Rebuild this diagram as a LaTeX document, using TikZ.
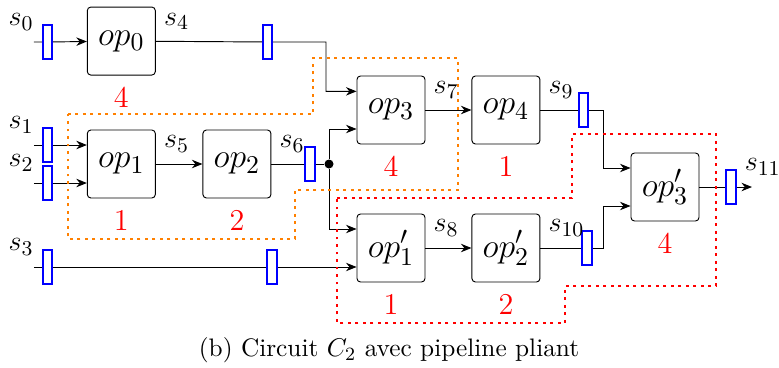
\documentclass[tikz,border=0pt]{standalone}
\usetikzlibrary{arrows.meta, positioning, calc}

\begin{document}
\begin{tikzpicture}[
    x=1cm,
    y=1cm,
    >={Stealth[length=4.5pt, width=3.6pt]},
    opbox/.style={draw, rounded corners=1.5pt, minimum width=1.02cm, minimum height=1.02cm, inner sep=0pt, font=\fontsize{15.5}{18}\selectfont},
    regbox/.style={draw=blue, thick, fill=white, minimum width=0.14cm, minimum height=0.5cm, inner sep=0pt},
    stage/.style={text=red, font=\fontsize{12.9}{15}\selectfont},
    sig/.style={font=\fontsize{12.9}{15}\selectfont},
    forkdot/.style={circle, fill, inner sep=0pt, minimum size=0.135cm},
    region/.style={dotted, very thick}
]

\useasboundingbox (0,0) rectangle (11.685,5.505);

\node[opbox] (op1) at (1.82,3.045) {$op_1$};
\node[opbox, right=0.70cm of op1] (op2) {$op_2$};
\node[opbox, above=0.81cm of op1] (op0) {$op_0$};
\node[opbox] (op3) at (5.865,3.855) {$op_3$};
\node[opbox, right=0.69cm of op3] (op4) {$op_4$};
\node[opbox] (op1p) at (5.865,1.785) {$op'_1$};
\node[opbox, right=0.69cm of op1p] (op2p) {$op'_2$};
\node[opbox] (op3p) at (9.975,2.70) {$op'_3$};

\node[stage, below=1.5pt of op0] (n0) {4};
\node[stage, below=1.5pt of op1] (n1) {1};
\node[stage, below=1.5pt of op2] (n2) {2};
\node[stage, below=1.5pt of op3] (n3) {4};
\node[stage, below=1.5pt of op4] (n4) {1};
\node[stage, below=1.5pt of op1p] (n1p) {1};
\node[stage, below=1.5pt of op2p] (n2p) {2};
\node[stage, below=1.5pt of op3p] (n3p) {4};

\node[regbox] (reg0) at (0.7125,4.875) {};
\node[regbox] (reg1) at (0.7125,3.33) {};
\node[regbox] (reg2) at (0.7125,2.76) {};
\node[regbox] (reg3a) at (0.7125,1.5) {};
\node[regbox] (reg3b) at (4.08,1.5) {};
\node[regbox] (reg4) at (4.0125,4.875) {};
\node[regbox] (reg6) at (4.65,3.045) {};
\node[regbox] (reg9) at (8.7525,3.855) {};
\node[regbox] (reg10) at (8.805,1.785) {};
\node[regbox] (reg11) at (10.965,2.70) {};

\coordinate (in0) at (0.51,4.875);
\coordinate (in1) at (0.51,3.33);
\coordinate (in2) at (0.51,2.76);
\coordinate (in3) at (0.51,1.5);
\coordinate (sout) at (11.28,2.70);
\coordinate (bend4) at (4.89,4.875);
\coordinate (bend9) at (9.045,3.855);
\coordinate (bend10) at (9.045,1.785);
\node[forkdot] (fork) at (4.935,3.045) {};

\draw[->] (in0) -- (reg0) -- (op0);
\draw[->] (in1) -- (reg1) -- (reg1 -| op1.west);
\draw[->] (in2) -- (reg2) -- (reg2 -| op1.west);
\draw[->] (in3) -- (reg3a) -- (reg3b) -- (reg3b -| op1p.west);
\draw[->] (op1) -- (op2);
\draw (op2) -- (reg6) -- (fork);
\draw[->] (op0) -- (reg4) -- (bend4) |- ([yshift=0.28cm]op3.west);
\draw[->] (fork) |- ([yshift=-0.285cm]op3.west);
\draw[->] (fork) |- ([yshift=0.285cm]op1p.west);
\draw[->] (op3) -- (op4);
\draw[->] (op1p) -- (op2p);
\draw[->] (op4) -- (reg9) -- (bend9) |- ([yshift=0.285cm]op3p.west);
\draw[->] (op2p) -- (reg10) -- (bend10) |- ([yshift=-0.285cm]op3p.west);
\draw[->] (op3p) -- (reg11) -- (sout);

\node[sig, above left=1.5pt and 0pt of reg0.west] (s0) {$s_0$};
\node[sig, above left=1.5pt and 0pt of reg1.west] (s1) {$s_1$};
\node[sig, above left=1.5pt and 0pt of reg2.west] (s2) {$s_2$};
\node[sig, above left=1.5pt and 0pt of reg3a.west] (s3) {$s_3$};
\node[sig, above right=1.5pt and 0pt of op0.east] (s4) {$s_4$};
\node[sig, above right=1.5pt and 0pt of op1.east] (s5) {$s_5$};
\node[sig, above right=1.5pt and 0pt of op2.east] (s6) {$s_6$};
\node[sig, above right=1.5pt and 0pt of op3.east] (s7) {$s_7$};
\node[sig, above right=1.5pt and 0pt of op1p.east] (s8) {$s_8$};
\node[sig, above right=1.5pt and 0pt of op4.east] (s9) {$s_9$};
\node[sig, above right=1.5pt and 0pt of op2p.east] (s10) {$s_{10}$};
\node[sig, above right=1.5pt and 0pt of reg11.east] (s11) {$s_{11}$};

\draw[region, orange] (1.02,3.795) -- (4.695,3.795) -- (4.695,4.635) -- (6.87,4.635) -- (6.87,2.655) -- (4.425,2.655) -- (4.425,1.92) -- (1.02,1.92) -- cycle;
\draw[region, red] (5.055,2.535) -- (8.58,2.535) -- (8.58,3.495) -- (10.74,3.495) -- (10.74,1.215) -- (8.475,1.215) -- (8.475,0.66) -- (5.055,0.66) -- cycle;

\node[font=\fontsize{10.8}{13}\selectfont] (caption) at (5.835,0.255) {(b) Circuit $C_2$ avec pipeline pliant};

\end{tikzpicture}
\end{document}
